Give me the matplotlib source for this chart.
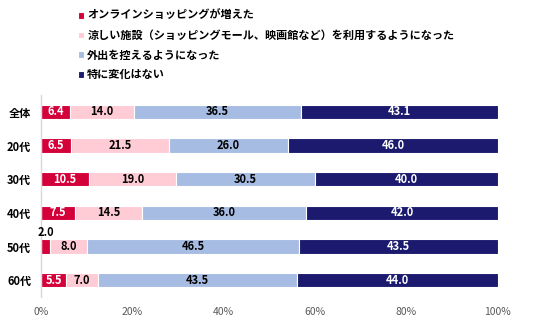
import matplotlib
matplotlib.use("Agg")
import matplotlib.pyplot as plt
import numpy as np

plt.rcParams['font.family'] = ['Noto Sans CJK JP', 'DejaVu Sans']

categories = ['全体', '20代', '30代', '40代', '50代', '60代']
series_names = ['オンラインショッピングが増えた',
                '涼しい施設（ショッピングモール、映画館など）を利用するようになった',
                '外出を控えるようになった',
                '特に変化はない']
online = [6.4, 6.5, 10.5, 7.5, 2.0, 5.5]
cool_facility = [14.0, 21.5, 19.0, 14.5, 8.0, 7.0]
stay_home = [36.5, 26.0, 30.5, 36.0, 46.5, 43.5]
no_change = [43.1, 46.0, 40.0, 42.0, 43.5, 44.0]
xticks = [0, 20, 40, 60, 80, 100]
xtick_labels = ['0%', '20%', '40%', '60%', '80%', '100%']

colors = ['#D4003A', '#FFCCD6', '#A7BCE3', '#1B1A6E']
text_colors = ['white', 'black', 'black', 'white']

fig = plt.figure(figsize=(5.36, 3.23), dpi=100)
ax = fig.add_axes([0.0765, 0.0805, 0.8525, 0.6255])

y = np.arange(len(categories))
left = np.zeros(len(categories))
handles = []
for vals, col, tc, name in zip([online, cool_facility, stay_home, no_change], colors, text_colors, series_names):
    vals = np.array(vals)
    b = ax.barh(y, vals, left=left, height=0.42, color=col, edgecolor='white', linewidth=0.8, label=name)
    handles.append(b)
    for i, (v, l) in enumerate(zip(vals, left)):
        if v < 4:
            ax.text(l + v / 2 + 0.1, y[i] - 0.41, f'{v:.1f}', ha='center', va='center',
                    color='black', fontsize=8, fontweight='bold')
        else:
            ax.text(l + v / 2, y[i], f'{v:.1f}', ha='center', va='center',
                    color=tc, fontsize=8, fontweight='bold')
    left = left + vals

ax.set_xlim(0, 100)
ax.set_ylim(len(categories) - 0.5, -0.5)
ax.set_yticks(y)
ax.set_yticklabels(categories, fontsize=8, fontweight='bold')
ax.set_xticks(xticks)
ax.set_xticklabels(xtick_labels, fontsize=7.5, color='#595959')
ax.tick_params(axis='both', length=0)
ax.tick_params(axis='y', pad=7)
ax.tick_params(axis='x', pad=7)
for s in ['top', 'right', 'bottom']:
    ax.spines[s].set_visible(False)
ax.spines['left'].set_color('#D9D9D9')
ax.spines['left'].set_linewidth(1.0)

fig.legend(handles=handles, labels=series_names, loc='upper left',
           bbox_to_anchor=(0.137, 0.985), frameon=False,
           prop={'size': 8, 'weight': 'bold'},
           handlelength=0.55, handleheight=0.55, handletextpad=0.3,
           labelspacing=0.6, borderaxespad=0)

fig.savefig('out.png', dpi=100)
